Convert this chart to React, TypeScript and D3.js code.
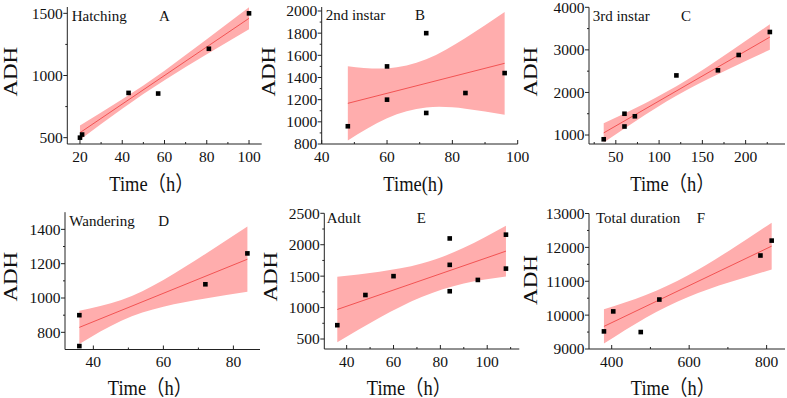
import React from "react";
import * as d3 from "d3";

// ---- Hatching (A) ----
const aTime = [20, 21, 43, 57, 81, 100];
const aAdh = [500, 525, 860, 855, 1215, 1500];
const aFitX = [20, 100];
const aFitY = [540, 1460];
const aBandX = [20, 40, 60, 80, 100];
const aBandHi = [597, 808, 1039, 1291, 1548];
const aBandLo = [483, 732, 961, 1170, 1372];
const aXTicks = [20, 40, 60, 80, 100];
const aXMinor = [30, 50, 70, 90];
const aYTicks = [500, 1000, 1500];
const aYMinor = [750, 1250];

// ---- 2nd instar (B) ----
const bTime = [48, 60, 60, 72, 72, 84, 96];
const bAdh = [960, 1500, 1200, 1800, 1080, 1260, 1440];
const bFitX = [48, 96];
const bFitY = [1167, 1528];
const bBandX = [48, 60, 72, 84, 96];
const bBandHi = [1502, 1482, 1564, 1757, 1991];
const bBandLo = [832, 1032, 1130, 1119, 1065];
const bXTicks = [40, 60, 80, 100];
const bXMinor = [50, 70, 90];
const bYTicks = [800, 1000, 1200, 1400, 1600, 1800, 2000];
const bYMinor = [900, 1100, 1300, 1500, 1700, 1900];

// ---- 3rd instar (C) ----
const cTime = [36, 60, 60, 72, 120, 168, 192, 228];
const cAdh = [900, 1500, 1200, 1440, 2400, 2520, 2880, 3420];
const cFitX = [36, 228];
const cFitY = [1050, 3300];
const cBandX = [36, 84, 132, 180, 228];
const cBandHi = [1278, 1749, 2292, 2931, 3600];
const cBandLo = [822, 1477, 2058, 2544, 3000];
const cXTicks = [50, 100, 150, 200];
const cXMinor = [25, 75, 125, 175, 225];
const cYTicks = [1000, 2000, 3000, 4000];
const cYMinor = [1500, 2500, 3500];

// ---- Wandering (D) ----
const dTime = [36, 36, 72, 84];
const dAdh = [900, 720, 1080, 1260];
const dFitX = [36, 84];
const dFitY = [829, 1226];
const dBandX = [36, 48, 60, 72, 84];
const dBandHi = [926, 988, 1105, 1257, 1416];
const dBandLo = [732, 868, 949, 997, 1036];
const dXTicks = [40, 60, 80];
const dXMinor = [50, 70];
const dYTicks = [800, 1000, 1200, 1400];
const dYMinor = [900, 1100, 1300];

// ---- Adult (E) ----
const eTime = [36, 48, 60, 84, 84, 84, 96, 108, 108];
const eAdh = [720, 1200, 1500, 2100, 1680, 1260, 1440, 2160, 1620];
const eFitX = [36, 108];
const eFitY = [970, 1898];
const eBandX = [36, 54, 72, 90, 108];
const eBandHi = [1490, 1570, 1700, 1950, 2300];
const eBandLo = [450, 840, 1170, 1385, 1495];
const eXTicks = [40, 60, 80, 100];
const eXMinor = [50, 70, 90, 110];
const eYTicks = [500, 1000, 1500, 2000, 2500];
const eYMinor = [750, 1250, 1750, 2250];

// ---- Total duration (F) ----
const fTime = [380, 404, 475, 523, 784, 813];
const fAdh = [9520, 10110, 9500, 10460, 11760, 12200];
const fFitX = [380, 813];
const fFitY = [9667, 12037];
const fBandX = [380, 488, 596, 704, 813];
const fBandHi = [10175, 10594, 11167, 11911, 12729];
const fBandLo = [9159, 9922, 10531, 10969, 11345];
const fXTicks = [400, 600, 800];
const fXMinor = [500, 700];
const fYTicks = [9000, 10000, 11000, 12000, 13000];
const fYMinor = [9500, 10500, 11500, 12500];

const SERIF = "'Liberation Serif', 'Times New Roman', 'Noto Sans CJK SC', serif";
const BAND = "#ffadad";
const FIT = "#f04848";
const AXIS = "#222";

type Panel = {
  title: string;
  letter: string;
  xs: number[];
  ys: number[];
  fitX: number[];
  fitY: number[];
  bandX: number[];
  bandHi: number[];
  bandLo: number[];
  xTicks: number[];
  xMinor: number[];
  yTicks: number[];
  yMinor: number[];
  xDomain: [number, number];
  yDomain: [number, number];
  xRange: [number, number];
  yRange: [number, number];
  xTitle: string;
  xTitlePos: [number, number];
  yTitlePos: [number, number];
  titlePos: [number, number];
  letterX: number;
  tickLabelY: number;
};

const panels: Panel[] = [
  {
    title: "Hatching", letter: "A", xs: aTime, ys: aAdh, fitX: aFitX, fitY: aFitY,
    bandX: aBandX, bandHi: aBandHi, bandLo: aBandLo,
    xTicks: aXTicks, xMinor: aXMinor, yTicks: aYTicks, yMinor: aYMinor,
    xDomain: [14, 106], yDomain: [449, 1551], xRange: [67.3, 261.7], yRange: [144, 7],
    xTitle: "Time（h）", xTitlePos: [151.5, 191], yTitlePos: [16.8, 71.7],
    titlePos: [71.7, 20.7], letterX: 159, tickLabelY: 161.7,
  },
  {
    title: "2nd instar", letter: "B", xs: bTime, ys: bAdh, fitX: bFitX, fitY: bFitY,
    bandX: bBandX, bandHi: bBandHi, bandLo: bBandLo,
    xTicks: bXTicks, xMinor: bXMinor, yTicks: bYTicks, yMinor: bYMinor,
    xDomain: [40, 100], yDomain: [800, 2036], xRange: [321.7, 517.7], yRange: [144, 7],
    xTitle: "Time(h)", xTitlePos: [413.3, 191], yTitlePos: [274.5, 71.7],
    titlePos: [325.7, 20], letterX: 415, tickLabelY: 161.7,
  },
  {
    title: "3rd instar", letter: "C", xs: cTime, ys: cAdh, fitX: cFitX, fitY: cFitY,
    bandX: cBandX, bandHi: cBandHi, bandLo: cBandLo,
    xTicks: cXTicks, xMinor: cXMinor, yTicks: cYTicks, yMinor: cYMinor,
    xDomain: [19, 245.5], yDomain: [789, 4000], xRange: [589, 785], yRange: [144, 7.3],
    xTitle: "Time（h）", xTitlePos: [672.5, 191], yTitlePos: [536.5, 71.7],
    titlePos: [592.7, 20.7], letterX: 681, tickLabelY: 161.7,
  },
  {
    title: "Wandering", letter: "D", xs: dTime, ys: dAdh, fitX: dFitX, fitY: dFitY,
    bandX: dBandX, bandHi: dBandHi, bandLo: dBandLo,
    xTicks: dXTicks, xMinor: dXMinor, yTicks: dYTicks, yMinor: dYMinor,
    xDomain: [31.9, 87.6], yDomain: [700, 1500], xRange: [65, 260], yRange: [349.5, 212.2],
    xTitle: "Time（h）", xTitlePos: [150, 395], yTitlePos: [16.8, 276.7],
    titlePos: [69.3, 226], letterX: 158.3, tickLabelY: 366.7,
  },
  {
    title: "Adult", letter: "E", xs: eTime, ys: eAdh, fitX: eFitX, fitY: eFitY,
    bandX: eBandX, bandHi: eBandHi, bandLo: eBandLo,
    xTicks: eXTicks, xMinor: eXMinor, yTicks: eYTicks, yMinor: eYMinor,
    xDomain: [30.45, 113.7], yDomain: [341, 2500], xRange: [324.3, 519.3], yRange: [349, 213.3],
    xTitle: "Time（h）", xTitlePos: [409, 395], yTitlePos: [276.5, 276.7],
    titlePos: [326.7, 222.7], letterX: 416.7, tickLabelY: 366.7,
  },
  {
    title: "Total duration", letter: "F", xs: fTime, ys: fAdh, fitX: fFitX, fitY: fFitY,
    bandX: fBandX, bandHi: fBandHi, bandLo: fBandLo,
    xTicks: fXTicks, xMinor: fXMinor, yTicks: fYTicks, yMinor: fYMinor,
    xDomain: [341.4, 847.4], yDomain: [9000, 13000], xRange: [589, 785], yRange: [349, 213.5],
    xTitle: "Time（h）", xTitlePos: [673, 395], yTitlePos: [536.5, 280],
    titlePos: [596, 222.7], letterX: 696.7, tickLabelY: 366.7,
  },
];

function PanelView({ p }: { p: Panel }) {
  const x = d3.scaleLinear().domain(p.xDomain).range(p.xRange);
  const y = d3.scaleLinear().domain(p.yDomain).range(p.yRange);
  const [x0, x1] = p.xRange;
  const [yb, yt] = p.yRange;

  const bandPts = p.bandX.map((bx, i) => ({ x: bx, hi: p.bandHi[i], lo: p.bandLo[i] }));
  const area = d3
    .area<{ x: number; hi: number; lo: number }>()
    .x((d) => x(d.x))
    .y0((d) => y(d.lo))
    .y1((d) => y(d.hi))
    .curve(d3.curveNatural);
  const fit = d3.line<number>().x((d) => x(d)).y((d, i) => y(p.fitY[i]));

  const sq = 4.6;
  return (
    <g>
      <path d={area(bandPts) || ""} fill={BAND} stroke="none" />
      <path d={fit(p.fitX) || ""} fill="none" stroke={FIT} strokeWidth={0.9} />
      {p.xs.map((v, i) => (
        <rect key={i} x={x(v) - sq / 2} y={y(p.ys[i]) - sq / 2} width={sq} height={sq} fill="#000" />
      ))}

      {/* axes */}
      <line x1={x0} x2={x1} y1={yb} y2={yb} stroke={AXIS} strokeWidth={1} />
      <line x1={x0} x2={x0} y1={yb} y2={yt} stroke={AXIS} strokeWidth={1} />
      {p.xTicks.map((t) => (
        <g key={"xt" + t}>
          <line x1={x(t)} x2={x(t)} y1={yb} y2={yb - 4} stroke={AXIS} strokeWidth={1} />
          <text x={x(t)} y={p.tickLabelY} textAnchor="middle" fontSize={15.5} fontFamily={SERIF} fill="#111">
            {t}
          </text>
        </g>
      ))}
      {p.xMinor.map((t) => (
        <line key={"xm" + t} x1={x(t)} x2={x(t)} y1={yb} y2={yb - 2} stroke={AXIS} strokeWidth={1} />
      ))}
      {p.yTicks.map((t) => (
        <g key={"yt" + t}>
          <line x1={x0} x2={x0 - 4} y1={y(t)} y2={y(t)} stroke={AXIS} strokeWidth={1} />
          <text x={x0 - 4.5} y={y(t)} dy="0.35em" textAnchor="end" fontSize={15.5} fontFamily={SERIF} fill="#111">
            {t}
          </text>
        </g>
      ))}
      {p.yMinor.map((t) => (
        <line key={"ym" + t} x1={x0} x2={x0 - 2} y1={y(t)} y2={y(t)} stroke={AXIS} strokeWidth={1} />
      ))}

      {/* titles */}
      <text
        transform={`translate(${p.xTitlePos[0]},${p.xTitlePos[1]}) scale(0.88,1)`}
        textAnchor="middle"
        fontSize={21}
        fontFamily={SERIF}
        fill="#111"
      >
        {p.xTitle}
      </text>
      <text
        transform={`translate(${p.yTitlePos[0]},${p.yTitlePos[1]}) scale(0.8,1) rotate(-90)`}
        textAnchor="middle"
        fontSize={23}
        fontFamily={SERIF}
        fill="#111"
      >
        ADH
      </text>
      <text x={p.titlePos[0]} y={p.titlePos[1]} fontSize={15} fontFamily={SERIF} fill="#111">
        {p.title}
      </text>
      <text x={p.letterX} y={p.titlePos[1]} fontSize={15} fontFamily={SERIF} fill="#111">
        {p.letter}
      </text>
    </g>
  );
}

export default function App() {
  return (
    <svg
      width={787}
      height={398}
      viewBox="0 0 787 398"
      style={{ position: "absolute", left: 0, top: 0, display: "block", background: "#fff" }}
    >
      <rect width={787} height={398} fill="#fff" />
      {panels.map((p) => (
        <PanelView key={p.letter} p={p} />
      ))}
    </svg>
  );
}
